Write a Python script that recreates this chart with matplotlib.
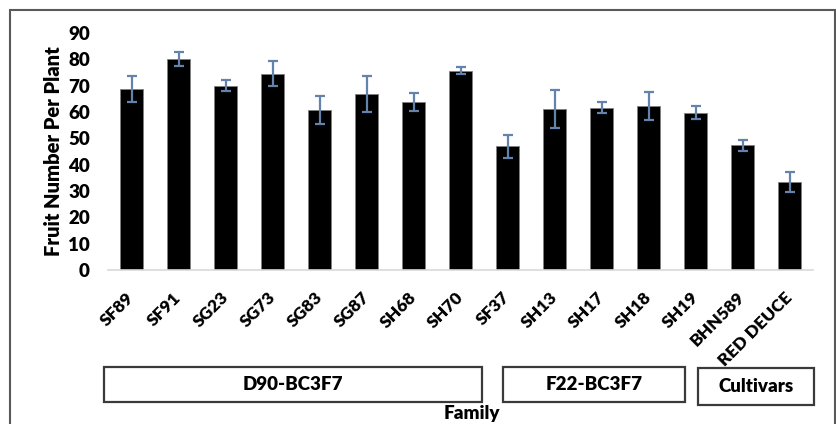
import matplotlib
matplotlib.use("Agg")
import matplotlib.pyplot as plt
from matplotlib.patches import Rectangle
from matplotlib.transforms import ScaledTranslation

plt.rcParams['font.family'] = ['Lato', 'DejaVu Sans']

categories = ["SF89", "SF91", "SG23", "SG73", "SG83", "SG87", "SH68", "SH70",
              "SF37", "SH13", "SH17", "SH18", "SH19", "BHN589", "RED DEUCE"]
values = [68.8, 80.2, 70.0, 74.5, 60.6, 66.9, 63.9, 75.7,
          46.9, 61.2, 61.6, 62.3, 59.8, 47.3, 33.5]
errors = [5.0, 2.6, 2.0, 4.7, 5.3, 6.9, 3.5, 1.2,
          4.4, 7.3, 2.1, 5.2, 2.5, 2.1, 3.7]
yticks = [0, 10, 20, 30, 40, 50, 60, 70, 80, 90]
groups = ["D90-BC3F7", "F22-BC3F7", "Cultivars"]

W, H = 836, 424
fig = plt.figure(figsize=(W / 100, H / 100), dpi=100)
FW = 'heavy'

# outer frame
fig.add_artist(Rectangle((10 / W, -0.05), (835 - 10) / W, (H - 10) / H + 0.05,
                         transform=fig.transFigure, fill=False,
                         edgecolor='#595959', linewidth=1.5))

ax = fig.add_axes([108 / W, (H - 270) / H, (813 - 108) / W, (270 - 33) / H])
x = list(range(len(categories)))
ax.bar(x, values, width=0.49, color='black', edgecolor='#7f7f7f', linewidth=0.6, zorder=2)
ax.errorbar(x, values, yerr=errors, fmt='none', ecolor='#6383ad', elinewidth=1.6,
            capsize=3.5, capthick=1.6, zorder=3)
ax.set_xlim(-0.5, len(categories) - 0.5)
ax.set_ylim(0, 90)
ax.set_yticks(yticks)
ax.set_yticklabels([str(t) for t in yticks], fontsize=13.5, fontweight=FW)
ax.set_xticks(x)
ax.set_xticklabels(categories, rotation=45, ha='right', va='center',
                   rotation_mode='anchor', fontsize=12.5, fontweight=FW)
shift = ScaledTranslation(2 / 100, 0, fig.dpi_scale_trans)
for lab in ax.get_xticklabels():
    lab.set_transform(lab.get_transform() + shift)
ax.tick_params(axis='y', length=0, pad=13)
ax.tick_params(axis='x', length=0, pad=18)
for s in ['top', 'right', 'left']:
    ax.spines[s].set_visible(False)
ax.spines['bottom'].set_color('#d9d9d9')
ax.spines['bottom'].set_linewidth(1.2)
ax.set_ylabel("Fruit Number Per Plant", fontsize=14.5, fontweight=FW, labelpad=4)

# group boxes
boxes = [(104, 482, 367, 402), (503, 685, 367, 402), (698, 814, 368, 405)]
for (x0, x1, y0, y1), name in zip(boxes, groups):
    fig.add_artist(Rectangle((x0 / W, (H - y1) / H), (x1 - x0) / W, (y1 - y0) / H,
                             transform=fig.transFigure, fill=False,
                             edgecolor='#3a3a3a', linewidth=1.6))
    fig.text((x0 + x1) / 2 / W, (H - (y0 + y1) / 2) / H, name, ha='center', va='center',
             fontsize=13.5, fontweight=FW)

fig.text(472 / W, (H - 414) / H, "Family", ha='center', va='center',
         fontsize=13.5, fontweight=FW)

fig.savefig("out.png", dpi=100)
